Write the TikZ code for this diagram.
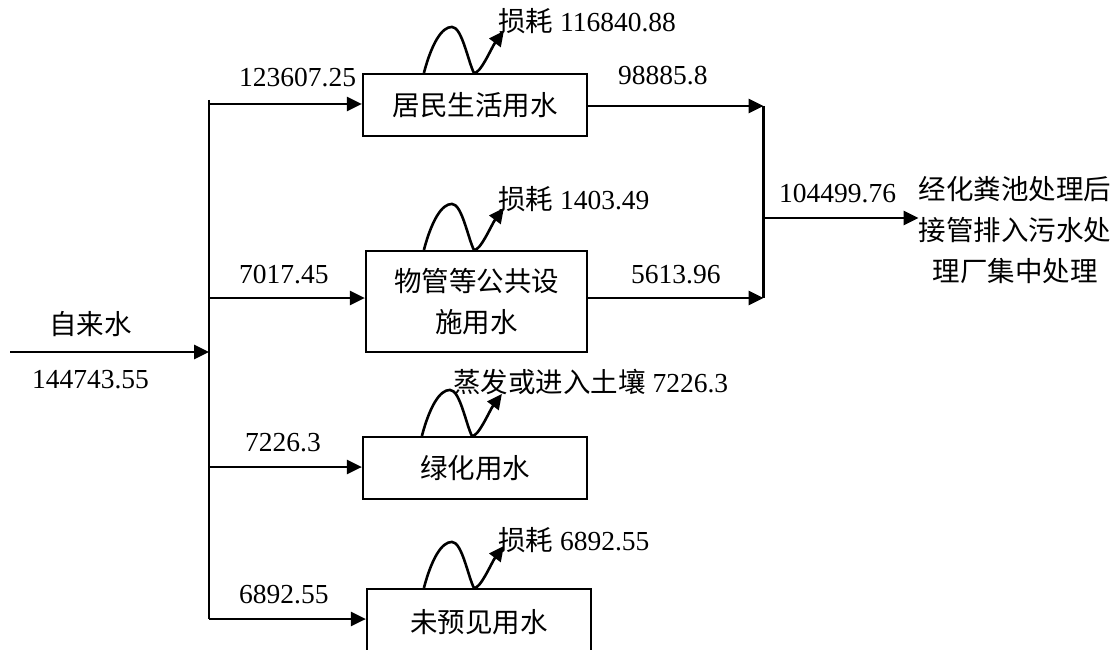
\documentclass[tikz,border=0pt]{standalone}
\usepackage{fontspec}
\setmainfont{Liberation Serif}
\newfontfamily\cjkfont{Noto Sans CJK SC}
\usetikzlibrary{arrows.meta}
\newcommand\zh[1]{{\cjkfont #1}}
\begin{document}
\begin{tikzpicture}[x=1pt,y=-1pt,
  font=\fontsize{27.5}{41}\selectfont,
  box/.style={draw, line width=2.2pt, inner sep=0pt, align=center},
  lbl/.style={inner sep=0pt, anchor=base west},
  flow/.style={line width=2.6pt},
  arr/.style={line width=2.6pt, -{Triangle[length=15pt,width=14pt]}},
  wave/.style={line width=2.6pt, -{Triangle[length=15pt,width=14pt]}}]
\useasboundingbox (0,0) rectangle (1119,650);
\clip (0,0) rectangle (1119,650);

% boxes
\node[box, minimum width=224pt, minimum height=62pt]  (b1) at (475,105)   {\zh{居民生活用水}};
\node[box, minimum width=221pt, minimum height=101pt] (b2) at (476.5,301.5) {\zh{物管等公共设}\\\zh{施用水}};
\node[box, minimum width=224pt, minimum height=62pt]  (b3) at (475,468)   {\zh{绿化用水}};
\node[box, minimum width=224pt, minimum height=66pt]  (b4) at (479,622)   {\zh{未预见用水}};

% output text
\node[inner sep=0pt, align=center] (out) at (1015,230) {\zh{经化粪池处理后}\\\zh{接管排入污水处}\\\zh{理厂集中处理}};

% left bus
\coordinate (Ltop) at (209,100);
\coordinate (Lb1) at (209,104);
\coordinate (Lin) at (209,352);
\coordinate (Lb2) at (209,298);
\coordinate (Lb3) at (209,467);
\coordinate (Lb4) at (209,619);
\coordinate (src) at (10,352);
\draw[flow] (Ltop) -- (Lb4);
\draw[arr] (src) -- (Lin);
\draw[arr] (Lb1) -- (Lb1 -| b1.west);
\draw[arr] (Lb2) -- (Lb2 -| b2.west);
\draw[arr] (Lb3) -- (Lb3 -| b3.west);
\draw[arr] (Lb4) -- (Lb4 -| b4.west);

% right bus
\coordinate (R1) at (763.5,106);
\coordinate (R2) at (763.5,298);
\coordinate (Rm) at (763.5,218);
\draw[arr] (b1.east |- R1) -- (R1);
\draw[arr] (b2.east |- R2) -- (R2);
\draw[flow] (R1) -- (R2);
\draw[arr] (Rm) -- (out.west |- Rm);

% waves (losses)
\foreach \b/\dx in {b1/62, b2/59, b3/60, b4/58}{
  \draw[wave] (\b.north west) ++(\dx,0)
    .. controls +(8,-30) and +(-10,0) .. ++(28,-46)
    .. controls +(10,0) and +(-6,-12) .. ++(22,46)
    .. controls +(6,2) and +(-12,16) .. ++(30,-42);
}

% labels
\node[lbl] (l1) at (239,87)  {123607.25};
\node[lbl] (l2) at (239,283) {7017.45};
\node[lbl] (l3) at (245,451) {7226.3};
\node[lbl] (l4) at (239,603) {6892.55};
\node[lbl] (r1) at (618,85)  {98885.8};
\node[lbl] (r2) at (631,283) {5613.96};
\node[lbl] (r3) at (779,202) {104499.76};
\node[lbl] (w1) at (498,32)  {\zh{损耗} 116840.88};
\node[lbl] (w2) at (498,209) {\zh{损耗} 1403.49};
\node[lbl] (w3) at (453,392) {\zh{蒸发或进入土壤} 7226.3};
\node[lbl] (w4) at (498,550) {\zh{损耗} 6892.55};
\node[inner sep=0pt, anchor=base] (s1) at (90.5,334) {\zh{自来水}};
\node[inner sep=0pt, anchor=base] (s2) at (90.5,388) {144743.55};
\end{tikzpicture}
\end{document}
